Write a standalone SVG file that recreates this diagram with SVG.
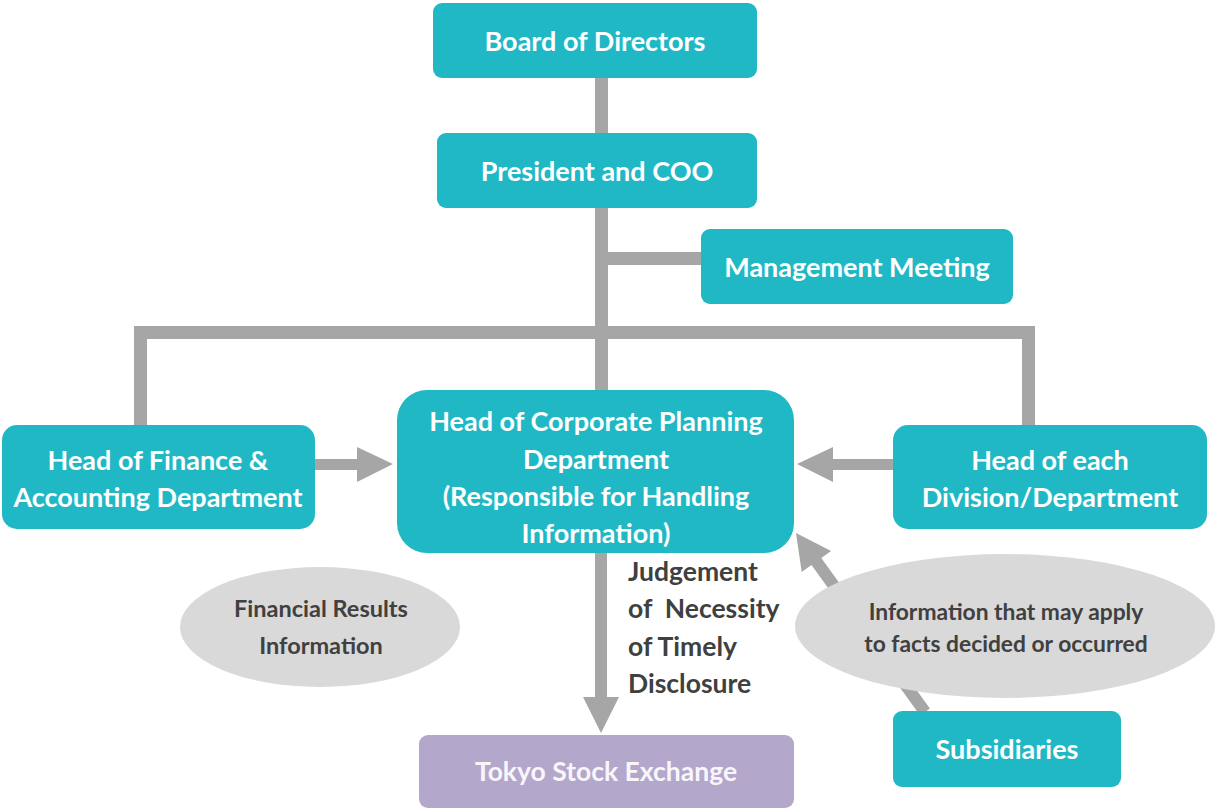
<svg xmlns="http://www.w3.org/2000/svg" width="1215" height="810" viewBox="0 0 1215 810">
<style>
.box{fill:#21B8C5;}
.lbl{font-family:Lato,"Open Sans","Liberation Sans",sans-serif;font-weight:bold;fill:#FFFFFF;text-anchor:middle;font-size:27px;}
.dark{font-family:Lato,"Open Sans","Liberation Sans",sans-serif;font-weight:bold;fill:#404040;font-size:26.5px;}
.ell{fill:#D9D9D9;}
.con{fill:#A6A6A6;}
</style>
<rect width="1215" height="810" fill="#FFFFFF"/>
<g id="connectors">
  <rect class="con" x="595" y="78" width="13" height="315"/>
  <rect class="con" x="601" y="252" width="102" height="13"/>
  <rect class="con" x="134" y="326" width="901" height="13"/>
  <rect class="con" x="134" y="326" width="13" height="100"/>
  <rect class="con" x="1022" y="326" width="13" height="100"/>
  <polygon class="con" points="315,459 357,459 357,447 393,464 357,482 357,470 315,470"/>
  <polygon class="con" points="893,459 833,459 833,447 797,464 833,482 833,470 893,470"/>
  <polygon class="con" points="595,553 607,553 607,697 619,697 601,733 583,697 595,697"/>
  <polygon class="con" points="929.9,708.5 821.3,558 831.1,551 796,533 801.7,572 811.5,565 920.1,715.5"/>
</g>
<g id="board"><rect class="box" x="433" y="3" width="324" height="75" rx="9"/><text class="lbl" x="595" y="51">Board of Directors</text></g>
<g id="president"><rect class="box" x="437" y="133" width="320" height="75" rx="9"/><text class="lbl" x="597" y="181">President and COO</text></g>
<g id="management"><rect class="box" x="701" y="229" width="312" height="75" rx="9"/><text class="lbl" x="857" y="277">Management Meeting</text></g>
<g id="finance"><rect class="box" x="2" y="425" width="313" height="104" rx="15"/><text class="lbl" x="158" y="470">Head of Finance &amp;</text><text class="lbl" x="158" y="507">Accounting Department</text></g>
<g id="corporate"><rect class="box" x="397" y="390" width="397" height="163" rx="30"/><text class="lbl" x="596" y="431">Head of Corporate Planning</text><text class="lbl" x="596" y="469">Department</text><text class="lbl" x="596" y="506">(Responsible for Handling</text><text class="lbl" x="596" y="543">Information)</text></g>
<g id="division"><rect class="box" x="893" y="425" width="314" height="104" rx="15"/><text class="lbl" x="1050" y="470">Head of each</text><text class="lbl" x="1050" y="507">Division/Department</text></g>
<g id="financial-results"><ellipse class="ell" cx="320" cy="627" rx="140" ry="60"/><text class="dark" text-anchor="middle" x="321" y="617" style="font-size:23.5px">Financial Results</text><text class="dark" text-anchor="middle" x="321" y="654" style="font-size:23.5px">Information</text></g>
<g id="judgement"><text class="dark" x="628" y="581">Judgement</text><text class="dark" x="628" y="618" xml:space="preserve">of  Necessity</text><text class="dark" x="628" y="656">of Timely</text><text class="dark" x="628" y="693">Disclosure</text></g>
<g id="information"><ellipse class="ell" cx="1005" cy="626" rx="210" ry="72"/><text class="dark" text-anchor="middle" x="1006" y="620" style="font-size:22.8px">Information that may apply</text><text class="dark" text-anchor="middle" x="1006" y="652" style="font-size:22.8px">to facts decided or occurred</text></g>
<g id="subsidiaries"><rect class="box" x="893" y="711" width="228" height="76" rx="9"/><text class="lbl" x="1007" y="759">Subsidiaries</text></g>
<g id="tse"><rect x="419" y="735" width="375" height="73" rx="9" fill="#B4A7CC"/><text class="lbl" x="606" y="781" style="fill:#F8F6FB;font-size:26.5px">Tokyo Stock Exchange</text></g>
</svg>
